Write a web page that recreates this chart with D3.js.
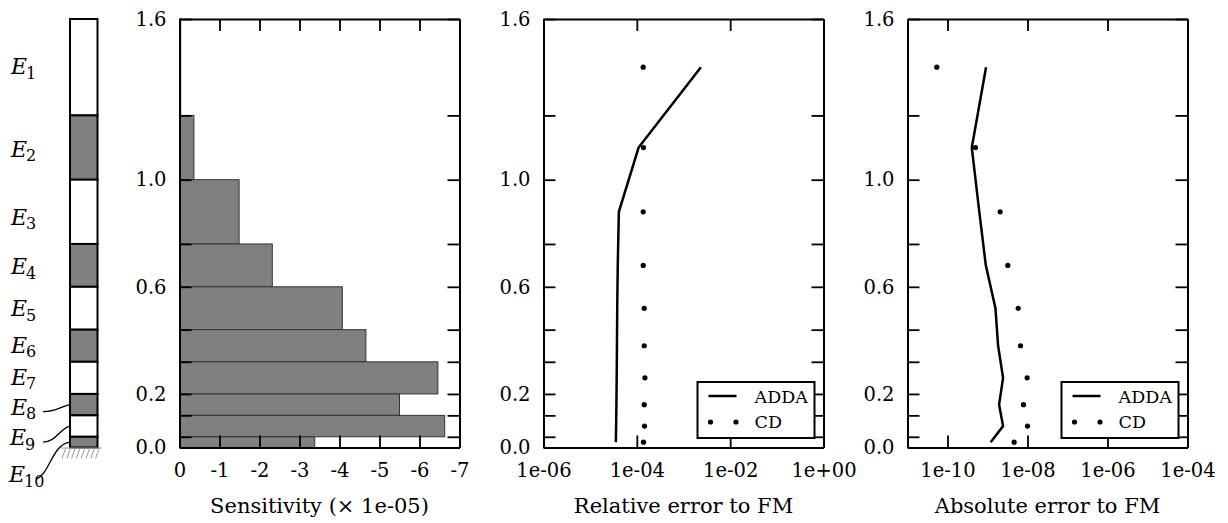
<!DOCTYPE html>
<html>
<head>
<meta charset="utf-8">
<script src="https://cdn.jsdelivr.net/npm/d3@7"></script>
<style>
  body { margin: 0; background: #fff; }
  svg { display: block; font-family: "DejaVu Serif", serif; }
  .tick line { stroke: #000; stroke-width: 1.8; }
  .domain { stroke: #000; stroke-width: 2; fill: none; }
  .tick text { font-family: "DejaVu Serif", serif; font-size: 19.5px; fill: #000; }
</style>
</head>
<body>
<script>
// layers E1..E10, top to bottom (height units)
const layerNames = ['1', '2', '3', '4', '5', '6', '7', '8', '9', '10'];
const layerTop = [1.6, 1.24, 1.0, 0.76, 0.6, 0.44, 0.32, 0.2, 0.12, 0.04];
const layerBottom = [1.24, 1.0, 0.76, 0.6, 0.44, 0.32, 0.2, 0.12, 0.04, 0];

// sensitivity (x 1e-05)
const sensitivity = [-0.03, -0.36, -1.49, -2.32, -4.07, -4.66, -6.46, -5.5, -6.63, -3.38];

// errors to FM, per layer
const relAdda = [2.36e-3, 1.09e-4, 4.12e-5, 3.9e-5, 3.8e-5, 3.75e-5, 3.7e-5, 3.65e-5, 3.6e-5, 3.55e-5];
const relCd = [1.37e-4, 1.39e-4, 1.37e-4, 1.37e-4, 1.44e-4, 1.44e-4, 1.49e-4, 1.44e-4, 1.46e-4, 1.39e-4];
const absAdda = [9.2e-10, 4.05e-10, 6.24e-10, 9.08e-10, 1.58e-9, 1.84e-9, 2.45e-9, 1.95e-9, 2.45e-9, 1.2e-9];
const absCd = [5.4e-11, 5.0e-10, 2.07e-9, 3.22e-9, 5.84e-9, 6.68e-9, 9.8e-9, 7.94e-9, 1e-8, 4.63e-9];

// ticks
const yTicks = [0, 0.04, 0.12, 0.2, 0.32, 0.44, 0.6, 0.76, 1.0, 1.24, 1.6];
const yLabelled = [0, 0.2, 0.6, 1.0, 1.6];
const sensTicks = [0, -1, -2, -3, -4, -5, -6, -7];
const relTicks = [1e-6, 1e-4, 1e-2, 1];
const relLabels = ['1e-06', '1e-04', '1e-02', '1e+00'];
const absTicks = [1e-10, 1e-8, 1e-6, 1e-4];
const absLabels = ['1e-10', '1e-08', '1e-06', '1e-04'];

const width = 1228;
const height = 523;
const plotTop = 19, plotBottom = 447.5, pw = 280;
const panelX = [179.5, 543.5, 907.5];
const grey = '#808080';

const svg = d3.select('body')
  .append('svg')
  .attr('width', width)
  .attr('height', height);

const y = d3.scaleLinear().domain([0, 1.6]).range([plotBottom, plotTop]);
const mid = (i) => (layerTop[i] + layerBottom[i]) / 2;

// ---- layer column ----
const col = svg.append('g');
col.selectAll('rect')
  .data(layerNames)
  .enter()
  .append('rect')
  .attr('x', 70)
  .attr('width', 27.5)
  .attr('y', (d, i) => y(layerTop[i]))
  .attr('height', (d, i) => y(layerBottom[i]) - y(layerTop[i]))
  .attr('fill', (d, i) => i % 2 ? grey : '#fff')
  .attr('stroke', '#000')
  .attr('stroke-width', 2);

// ground hatching
col.append('line')
  .attr('x1', 61).attr('x2', 102).attr('y1', y(0) + 0.5).attr('y2', y(0) + 0.5)
  .attr('stroke', '#999').attr('stroke-width', 1);
for (let hx = 62; hx < 100; hx += 4.8) {
  col.append('line')
    .attr('x1', hx).attr('y1', y(0) + 11)
    .attr('x2', hx + 3.5).attr('y2', y(0) + 1)
    .attr('stroke', '#999').attr('stroke-width', 1);
}

// labels E_i, shifted down a bit for the thin bottom layers
const labelShift = [0, 2, 6, 2, 1, 0, 0, 3, 12, 33];
const labelX = [11, 11, 11, 11, 11, 11, 11, 11, 10, 9];
layerNames.forEach((n, i) => {
  const ly = y(mid(i)) + labelShift[i];
  const t = col.append('text')
    .attr('x', labelX[i])
    .attr('y', ly + 7)
    .attr('font-size', 22);
  t.append('tspan').attr('font-style', 'italic').text('E');
  t.append('tspan').attr('font-size', 16).attr('dy', 4.5).attr('dx', -1).text(n);
});

// leader curves for E8, E9, E10
[7, 8, 9].forEach((i) => {
  const sy = y(mid(i)) + labelShift[i] + 4;
  const sx = i === 9 ? 36 : 43;
  const ey = y(mid(i));
  const p = d3.path();
  p.moveTo(sx, sy);
  if (i === 9) {
    p.bezierCurveTo(50, sy - 5, 52, ey + 2, 70, ey);
  } else {
    p.bezierCurveTo(56, sy, 60, ey + 2, 70, ey);
  }
  col.append('path').attr('d', p.toString())
    .attr('fill', 'none').attr('stroke', '#000').attr('stroke-width', 1.3);
});

// ---- helpers ----
function frame(g, x, xticks, xfmt) {
  g.append('g')
    .attr('transform', `translate(0,${plotBottom})`)
    .call(d3.axisBottom(x).tickValues(xticks).tickSize(-12).tickSizeOuter(0).tickPadding(15.5).tickFormat(xfmt));
  g.append('g')
    .attr('transform', `translate(0,${plotTop})`)
    .call(d3.axisTop(x).tickValues(xticks).tickSize(-12).tickSizeOuter(0).tickFormat(''));
  g.append('g')
    .attr('transform', `translate(${x.range()[0]},0)`)
    .call(d3.axisLeft(y).tickValues(yTicks).tickSize(-12).tickSizeOuter(0).tickPadding(13)
      .tickFormat(d => yLabelled.includes(d) ? d.toFixed(1) : ''));
  g.append('g')
    .attr('transform', `translate(${x.range()[1]},0)`)
    .call(d3.axisRight(y).tickValues(yTicks).tickSize(-12).tickSizeOuter(0).tickFormat(''));
}

function title(g, x, txt) {
  const r = x.range();
  g.append('text')
    .attr('x', (r[0] + r[1]) / 2)
    .attr('y', 513)
    .attr('text-anchor', 'middle')
    .attr('font-size', 21)
    .text(txt);
}

function errorPanel(x, adda, cd) {
  const g = svg.append('g');
  const line = d3.line()
    .x(d => x(d))
    .y((d, i) => y(mid(i)));
  g.append('path')
    .attr('d', line(adda))
    .attr('fill', 'none')
    .attr('stroke', '#000')
    .attr('stroke-width', 2.5);
  g.selectAll('circle')
    .data(cd)
    .enter()
    .append('circle')
    .attr('cx', d => x(d))
    .attr('cy', (d, i) => y(mid(i)))
    .attr('r', 2.6)
    .attr('fill', '#000');

  // legend
  const lx = x.range()[1] - 126, ly = 382;
  const leg = g.append('g').attr('class', 'legend').attr('transform', `translate(${lx},${ly})`);
  leg.append('rect')
    .attr('width', 117).attr('height', 56)
    .attr('fill', '#fff').attr('stroke', '#000').attr('stroke-width', 2);
  leg.append('line')
    .attr('x1', 11).attr('x2', 39).attr('y1', 14).attr('y2', 14)
    .attr('stroke', '#000').attr('stroke-width', 2.5);
  leg.selectAll('circle')
    .data([13, 38.5])
    .enter()
    .append('circle')
    .attr('cx', d => d).attr('cy', 40).attr('r', 2.6).attr('fill', '#000');
  leg.append('text').attr('x', 57).attr('y', 20.5).attr('font-size', 17.5).text('ADDA');
  leg.append('text').attr('x', 57).attr('y', 46).attr('font-size', 17.5).text('CD');
  return g;
}

// ---- panel 1: sensitivity ----
const xs = d3.scaleLinear().domain([0, -7]).range([panelX[0], panelX[0] + pw]);
const p1 = svg.append('g');
p1.selectAll('rect')
  .data(sensitivity)
  .enter()
  .append('rect')
  .attr('x', xs(0))
  .attr('width', d => xs(d) - xs(0))
  .attr('y', (d, i) => y(layerTop[i]))
  .attr('height', (d, i) => y(layerBottom[i]) - y(layerTop[i]))
  .attr('fill', grey)
  .attr('stroke', '#333')
  .attr('stroke-width', 1);
frame(p1, xs, sensTicks, d => String(d));
title(p1, xs, 'Sensitivity (\u00d7 1e-05)');

// ---- panel 2: relative error ----
const xr = d3.scaleLog().domain([1e-6, 1]).range([panelX[1], panelX[1] + pw]);
const p2 = errorPanel(xr, relAdda, relCd);
frame(p2, xr, relTicks, d => relLabels[relTicks.indexOf(d)]);
p2.select('.legend').raise();
title(p2, xr, 'Relative error to FM');

// ---- panel 3: absolute error ----
const xa = d3.scaleLog().domain([1e-11, 1e-4]).range([panelX[2], panelX[2] + pw]);
const p3 = errorPanel(xa, absAdda, absCd);
frame(p3, xa, absTicks, d => absLabels[absTicks.indexOf(d)]);
p3.select('.legend').raise();
title(p3, xa, 'Absolute error to FM');
</script>
</body>
</html>
